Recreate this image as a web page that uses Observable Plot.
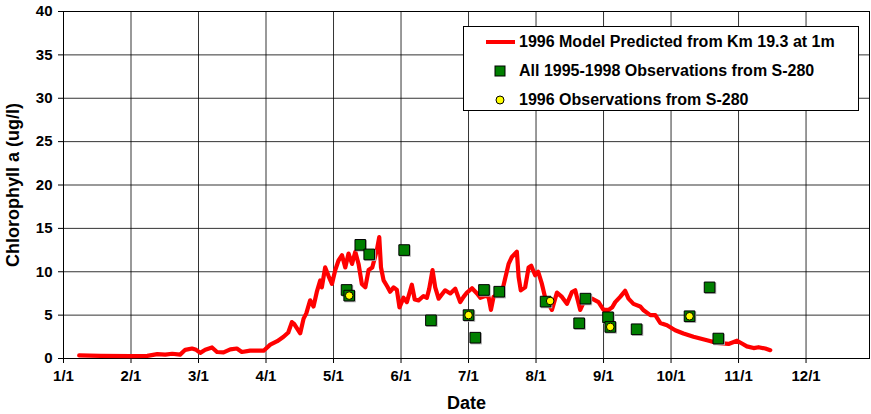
<!DOCTYPE html>
<html>
<head>
<meta charset="utf-8">
<script src="https://cdn.jsdelivr.net/npm/d3@7"></script>
<script src="https://cdn.jsdelivr.net/npm/@observablehq/plot@0.6"></script>
<style>
  body { margin: 0; background: #fff; }
  #chart { position: relative; width: 871px; height: 414px; font-family: "Liberation Sans", Arial, sans-serif; color: #000; }
  #chart svg { display: block; }
  g[aria-label="y-axis label"] text, g[aria-label="x-axis label"] text { font-size: 18px; font-weight: bold; }
  #legend { position: absolute; left: 463px; top: 26px; width: 396px; height: 85px; box-sizing: border-box;
            border: 1px solid #000; background: #fff; font-weight: bold; font-size: 16px; }
  #legend .row { position: absolute; left: 0; width: 100%; height: 20px; }
  #legend .row svg { position: absolute; left: 18px; top: 0; }
  #legend .row span { position: absolute; left: 55px; top: 0; line-height: 20px; white-space: nowrap; }
</style>
</head>
<body>
<div id="chart"></div>
<script>
// ---- data ----
// x values are days since Jan 1, 1996
const monthTickLabels = ["1/1","2/1","3/1","4/1","5/1","6/1","7/1","8/1","9/1","10/1","11/1","12/1"];
const yTicks = [0, 5, 10, 15, 20, 25, 30, 35, 40];
const monthStarts = [0,31,60,91,121,152,182,213,244,274,305,335,366];

const modelDay = [7.2,16.9,30.6,38.0,42.3,45.7,48.7,52.1,54.3,57.2,59.0,60.8,63.1,66.2,68.5,71.5,74.6,77.6,79.9,83.7,89.9,
  92.9,96.0,98.8,100.9,102.5,103.5,104.7,106.2,107.7,108.9,110.6,112.1,113.6,115.1,115.8,117.3,118.8,120.3,
  121.8,123.3,124.9,126.4,127.9,129.5,131.0,132.5,134.0,135.6,137.1,138.8,140.9,142.0,142.8,144.0,145.7,147.0,148.6,150.1,151.3,
  153.1,154.6,156.8,158.1,159.8,162.0,163.5,164.5,166.0,167.2,168.7,171.6,173.9,176.1,178.3,179.8,181.3,
  183.6,185.9,187.4,189.7,191.2,192.3,193.5,195.8,197.0,198.9,200.4,201.9,204.2,205.0,206.0,208.0,209.6,210.8,212.6,
  214.0,215.7,217.2,220.3,222.6,224.9,227.2,229.5,231.0,233.3,235.6,238.7,241.7,244.0,
  246.2,247.9,249.2,251.4,253.6,255.1,257.3,260.3,261.8,264.8,267.0,269.2,272.2,
  275.9,279.7,284.3,290.5,295.1,300.4,304.3,306.5,308.7,311.7,313.9,316.9,319.1];
const modelChl = [0.35,0.3,0.28,0.3,0.5,0.45,0.55,0.45,1.0,1.15,1.0,0.65,1.0,1.27,0.75,0.7,1.05,1.15,0.75,0.9,0.9,
  1.6,2.0,2.5,3.0,4.2,4.0,3.5,2.9,4.6,5.2,6.7,6.0,7.7,9.0,8.2,10.5,9.5,8.6,
  10.2,11.3,11.9,10.5,12.1,10.9,12.3,10.9,8.6,8.2,10.2,10.5,12.5,14.0,10.5,9.0,8.3,7.7,8.2,7.9,5.9,
  7.0,6.5,8.5,6.8,6.7,7.2,7.0,8.0,10.2,8.2,6.9,7.86,7.5,8.05,6.5,7.1,7.6,
  8.1,7.5,7.0,7.2,7.1,5.6,7.1,7.4,7.3,9.3,10.9,11.7,12.3,9.4,7.86,8.2,10.5,10.7,9.6,
  10.0,8.6,7.0,5.6,7.6,7.1,6.3,7.66,7.86,5.6,6.9,6.9,6.5,5.6,
  5.6,5.9,6.5,7.1,7.8,6.9,6.3,6.0,5.56,5.0,5.0,4.1,3.83,
  3.26,2.88,2.5,2.1,1.8,1.68,2.05,1.73,1.4,1.2,1.3,1.15,0.96];

const obsAllDay = [127.0,128.2,133.3,137.4,153.4,165.3,182.0,185.1,189.1,196.1,217.4,232.8,235.7,246.0,247.0,258.7,282.5,291.7,295.7];
const obsAllChl = [7.9,7.25,13.1,12.0,12.5,4.4,5.0,2.4,7.9,7.7,6.56,4.06,6.9,4.75,3.64,3.37,4.87,8.2,2.3];

const obs96Day = [128.2,182.0,219.5,247.0,282.5];
const obs96Chl = [7.25,5.0,6.63,3.64,4.87];

// ---- build ----
// position on the month axis (months are drawn evenly spaced)
function monthPos(day) {
  let m = d3.bisectRight(monthStarts, day) - 1;
  m = Math.max(0, Math.min(m, 11));
  return m + (day - monthStarts[m]) / (monthStarts[m + 1] - monthStarts[m]);
}
const model = modelDay.map((d, i) => ({x: monthPos(d), y: modelChl[i]}));
const obsAll = obsAllDay.map((d, i) => ({x: monthPos(d), y: obsAllChl[i]}));
const obs96 = obs96Day.map((d, i) => ({x: monthPos(d), y: obs96Chl[i]}));
const monthTicks = monthTickLabels.map((_, i) => i);

const chart = Plot.plot({
  width: 871,
  height: 414,
  marginLeft: 63,
  marginRight: 2,
  marginTop: 11,
  marginBottom: 56,
  style: {fontFamily: "'Liberation Sans', Arial, sans-serif", fontSize: "15px", fontWeight: "bold", color: "#000", background: "#fff"},
  x: {domain: [0, 11.94], ticks: monthTicks, tickFormat: d => monthTickLabels[d], tickSize: 5, tickPadding: 7,
      label: "Date", labelAnchor: "center", labelOffset: 50, labelArrow: "none"},
  y: {domain: [0, 40], ticks: yTicks, tickSize: 5, tickPadding: 6,
      label: "Chlorophyll a (ug/l)", labelAnchor: "center", labelOffset: 57, labelArrow: "none"},
  marks: [
    Plot.gridX(monthTicks, {stroke: "#000", strokeOpacity: 0.8, strokeWidth: 1}),
    Plot.gridY(yTicks, {stroke: "#000", strokeOpacity: 0.8, strokeWidth: 1}),
    Plot.frame({stroke: "#000", strokeWidth: 1}),
    Plot.line(model, {x: "x", y: "y", stroke: "#ff0000", strokeWidth: 4.2, strokeLinejoin: "round"}),
    Plot.dot(obsAll, {x: "x", y: "y", symbol: "square", r: 6.4, fill: "#b0b0b0", stroke: "none", dx: 1, dy: 1}),
    Plot.dot(obsAll, {x: "x", y: "y", symbol: "square", r: 6, fill: "#007f00", stroke: "#000", strokeWidth: 1}),
    Plot.dot(obs96, {x: "x", y: "y", r: 3.8, fill: "#ffff00", stroke: "#000", strokeWidth: 1})
  ]
});

const wrap = document.getElementById("chart");
wrap.appendChild(chart);

const legend = document.createElement("div");
legend.id = "legend";
legend.innerHTML = `
  <div class="row" style="top:5px">
    <svg width="36" height="20"><line x1="4" x2="33" y1="10" y2="10" stroke="#ff0000" stroke-width="4"/></svg>
    <span>1996 Model Predicted from Km 19.3 at 1m</span>
  </div>
  <div class="row" style="top:34px">
    <svg width="36" height="20"><rect x="13" y="5" width="10" height="10" fill="#007f00" stroke="#000" stroke-width="1"/></svg>
    <span>All 1995-1998 Observations from S-280</span>
  </div>
  <div class="row" style="top:63px">
    <svg width="36" height="20"><circle cx="18" cy="10" r="4" fill="#ffff00" stroke="#000" stroke-width="1"/></svg>
    <span>1996 Observations from S-280</span>
  </div>`;
wrap.appendChild(legend);
</script>
</body>
</html>
